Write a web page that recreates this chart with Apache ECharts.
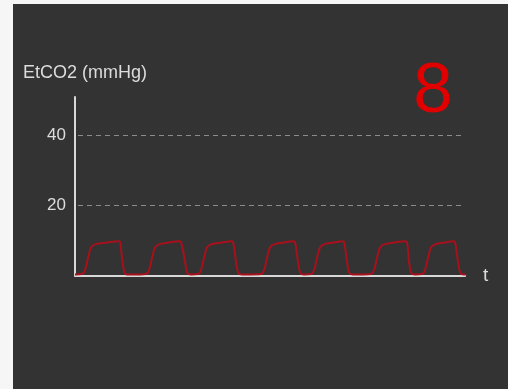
<!DOCTYPE html>
<html>
<head>
<meta charset="utf-8">
<script src="https://cdn.jsdelivr.net/npm/echarts@6/dist/echarts.min.js"></script>
<style>
  html, body { margin: 0; padding: 0; background: #f6f6f6; width: 508px; height: 389px; overflow: hidden; }
  #chart { position: absolute; left: 13px; top: 4px; width: 495px; height: 385px; }
</style>
</head>
<body>
<div id="chart"></div>
<script>
// Capnography trace: time (s) and EtCO2 (mmHg) samples, seven breaths
const times = [
  0, 0.7, 1.0, 1.3, 1.6, 2.0, 3.2, 4.3, 4.5, 4.75, 5.0, 5.4,
  6.5, 7.1, 7.4, 7.7, 8.0, 8.4, 9.4, 10.4, 10.6, 11.0, 11.25, 11.6,
  12.3, 12.6, 12.9, 13.2, 13.6, 14.7, 15.6, 15.8, 16.1, 16.35, 16.7,
  17.5, 18.6, 18.9, 19.2, 19.5, 19.9, 20.9, 21.8, 22.0, 22.3, 22.55, 22.9,
  23.6, 23.9, 24.2, 24.5, 24.9, 25.9, 26.7, 26.9, 27.2, 27.45, 27.8,
  28.8, 29.6, 29.9, 30.2, 30.5, 30.9, 31.9, 33.0, 33.2, 33.4, 33.65, 34.0,
  34.7, 35.0, 35.3, 35.6, 36.0, 37.0, 37.8, 38.0, 38.3, 38.55, 38.9, 39.0
];
const etco2 = [
  0.3, 0.4, 1.5, 5, 8.0, 8.9, 9.4, 9.8, 9.6, 4, 0.6, 0.3,
  0.3, 0.4, 1.5, 5, 8.0, 8.9, 9.4, 9.8, 9.6, 4, 0.6, 0.3,
  0.4, 1.5, 5, 8.0, 8.9, 9.4, 9.8, 9.6, 4, 0.6, 0.3,
  0.3, 0.4, 1.5, 5, 8.0, 8.9, 9.4, 9.8, 9.6, 4, 0.6, 0.3,
  0.4, 1.5, 5, 8.0, 8.9, 9.4, 9.8, 9.6, 4, 0.6, 0.3,
  0.3, 0.4, 1.5, 5, 8.0, 8.9, 9.4, 9.8, 9.6, 4, 0.6, 0.3,
  0.4, 1.5, 5, 8.0, 8.9, 9.4, 9.8, 9.6, 4, 0.6, 0.3, 0.3
];
const yTickLabels = [20, 40];
const currentValue = '8';
const yTitle = 'EtCO2 (mmHg)';
const xTitle = 't';

const font = '"Liberation Sans", Arial, Helvetica, sans-serif';
const textColor = '#dcdcdc';

const chart = echarts.init(document.getElementById('chart'), null, { renderer: 'canvas' });

const trace = times.map((t, i) => [t, etco2[i]]);
const guideLines = yTickLabels.map(v => [
  { coord: [0.3, v] },
  { coord: [38.6, v] }
]);

chart.setOption({
  backgroundColor: '#333333',
  animation: false,
  grid: { left: 62, right: 43, top: 93, bottom: 113.5 },
  xAxis: {
    type: 'value',
    min: 0,
    max: 39,
    name: xTitle,
    nameLocation: 'end',
    nameGap: 18,
    nameTextStyle: { color: textColor, fontSize: 19, fontFamily: font, verticalAlign: 'middle' },
    axisLine: { show: true, onZero: false, lineStyle: { color: '#d8d8d8', width: 2 } },
    axisTick: { show: false },
    axisLabel: { show: false },
    splitLine: { show: false }
  },
  yAxis: {
    type: 'value',
    min: 0,
    max: 51,
    interval: 20,
    axisLine: { show: true, lineStyle: { color: '#d8d8d8', width: 2 } },
    axisTick: { show: false },
    axisLabel: {
      color: textColor,
      fontSize: 17,
      fontFamily: font,
      margin: 9,
      formatter: v => (yTickLabels.indexOf(v) >= 0 ? String(v) : '')
    },
    splitLine: { show: false }
  },
  graphic: [
    {
      type: 'text',
      left: 10,
      top: 60,
      style: { text: yTitle, fill: textColor, font: '18px ' + font }
    },
    {
      type: 'text',
      x: 420,
      y: 88,
      style: {
        text: currentValue,
        fill: '#e00000',
        font: '71px ' + font,
        textAlign: 'center',
        textVerticalAlign: 'middle'
      }
    }
  ],
  series: [
    {
      type: 'line',
      data: trace,
      smooth: 0.35,
      showSymbol: false,
      z: 3,
      lineStyle: { color: '#a8101c', width: 2 },
      markLine: {
        silent: true,
        symbol: 'none',
        label: { show: false },
        lineStyle: { color: '#8c8c8c', width: 1, type: [5, 4] },
        data: guideLines
      }
    }
  ]
});
</script>
</body>
</html>
